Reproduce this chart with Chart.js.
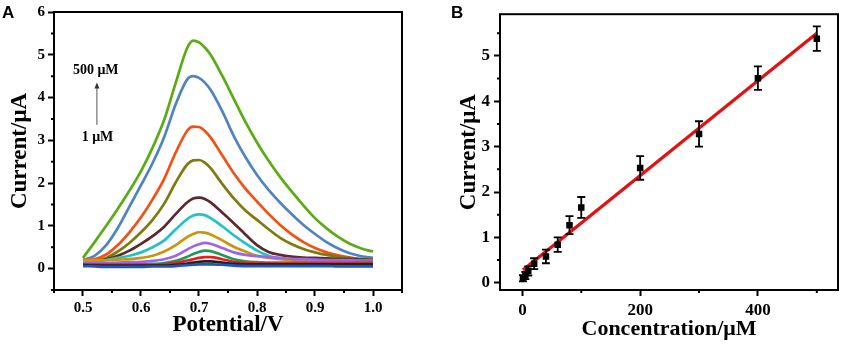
<!DOCTYPE html>
<html><head><meta charset="utf-8">
<script src="https://cdn.jsdelivr.net/npm/chart.js@4"></script>
<style>
html,body{margin:0;padding:0;background:#fff;}
#wrap{position:relative;width:844px;height:346px;overflow:hidden;background:#fff;}
#ca{position:absolute;left:0;top:0;}
#cb{position:absolute;left:420px;top:0;}
</style></head><body>
<div id="wrap"><canvas id="ca" width="420" height="346"></canvas><canvas id="cb" width="424" height="346"></canvas></div>
<script>
// ---------- Panel A data (DPV curves) ----------
const potential = [0.50,0.52,0.54,0.56,0.58,0.60,0.62,0.64,0.66,0.68,0.69,0.70,0.71,0.72,0.74,0.76,0.78,0.80,0.82,0.84,0.86,0.88,0.90,0.92,0.94,0.96,0.98,1.00];
const i1   = [0.06,0.05,0.04,0.04,0.04,0.04,0.05,0.05,0.06,0.08,0.09,0.10,0.10,0.10,0.09,0.07,0.06,0.06,0.06,0.06,0.06,0.06,0.06,0.06,0.05,0.05,0.05,0.05];
const i5   = [0.08,0.07,0.07,0.07,0.07,0.07,0.07,0.07,0.09,0.12,0.14,0.16,0.17,0.17,0.14,0.11,0.10,0.10,0.10,0.10,0.10,0.10,0.10,0.10,0.10,0.10,0.10,0.10];
const i10  = [0.10,0.09,0.08,0.08,0.08,0.08,0.08,0.10,0.13,0.19,0.22,0.25,0.27,0.27,0.22,0.16,0.13,0.12,0.12,0.12,0.12,0.12,0.12,0.12,0.12,0.12,0.12,0.12];
const i20  = [0.10,0.10,0.10,0.10,0.10,0.10,0.11,0.13,0.18,0.28,0.34,0.39,0.42,0.41,0.32,0.22,0.17,0.15,0.14,0.14,0.14,0.14,0.14,0.14,0.14,0.14,0.15,0.15];
const i40  = [0.13,0.13,0.13,0.14,0.15,0.16,0.18,0.22,0.30,0.45,0.52,0.57,0.60,0.58,0.48,0.38,0.32,0.29,0.27,0.25,0.23,0.22,0.21,0.20,0.20,0.20,0.19,0.19];
const i60  = [0.20,0.20,0.20,0.21,0.22,0.25,0.30,0.40,0.55,0.74,0.81,0.85,0.84,0.80,0.66,0.51,0.40,0.30,0.25,0.22,0.20,0.19,0.18,0.18,0.17,0.17,0.17,0.17];
const i80  = [0.15,0.16,0.20,0.25,0.30,0.38,0.50,0.66,0.92,1.16,1.24,1.27,1.25,1.18,0.99,0.78,0.59,0.42,0.30,0.24,0.21,0.20,0.19,0.19,0.18,0.18,0.18,0.18];
const i100 = [0.18,0.18,0.22,0.30,0.42,0.58,0.76,0.98,1.28,1.55,1.64,1.66,1.63,1.55,1.31,1.06,0.80,0.55,0.39,0.32,0.28,0.26,0.25,0.24,0.23,0.22,0.21,0.20];
const i200 = [0.18,0.18,0.25,0.40,0.60,0.85,1.14,1.52,2.02,2.44,2.53,2.54,2.48,2.35,1.98,1.64,1.36,1.14,0.92,0.72,0.57,0.46,0.38,0.32,0.28,0.25,0.22,0.20];
const i300 = [0.20,0.22,0.33,0.55,0.85,1.20,1.62,2.10,2.72,3.23,3.32,3.31,3.22,3.07,2.65,2.23,1.87,1.57,1.28,1.02,0.80,0.62,0.48,0.38,0.31,0.26,0.22,0.20];
const i400 = [0.20,0.30,0.55,0.95,1.45,1.95,2.47,3.08,3.85,4.43,4.50,4.46,4.35,4.18,3.68,3.10,2.61,2.19,1.84,1.54,1.27,1.02,0.81,0.62,0.47,0.36,0.29,0.25];
const i500 = [0.25,0.62,1.00,1.40,1.82,2.28,2.83,3.48,4.35,5.17,5.33,5.29,5.17,5.00,4.51,3.97,3.43,2.95,2.52,2.14,1.80,1.48,1.18,0.94,0.74,0.58,0.47,0.40];
const curveLabels = ['1 μM','5 μM','10 μM','20 μM','40 μM','60 μM','80 μM','100 μM','200 μM','300 μM','400 μM','500 μM'];
const curves = [i1,i5,i10,i20,i40,i60,i80,i100,i200,i300,i400,i500];
const xTicksA = [0.5,0.6,0.7,0.8,0.9,1.0];
const yTicksA = [0,1,2,3,4,5,6];

// ---------- Panel B data (calibration) ----------
const concB    = [1,5,10,20,40,60,80,100,200,300,400,500];
const currentB = [0.10,0.16,0.26,0.42,0.58,0.84,1.27,1.66,2.53,3.28,4.51,5.38];
const errB     = [0.07,0.08,0.10,0.12,0.15,0.16,0.20,0.23,0.26,0.28,0.26,0.27];
const fitX = [1,500];
const fitY = [0.28,5.50];
const xTicksB = [0,200,400];
const yTicksB = [0,1,2,3,4,5];

// ---------- styles ----------
const curveColors = ['#1a56c8','#222222','#e31e24','#1f9a5a','#a064e6','#c8960a','#20c4c4','#5c2a2e','#7d7a0e','#f55014','#4f84c0','#5aab14'];
const SERIF = '"Liberation Serif","Times New Roman",serif';
const SANS = '"Liberation Sans",Arial,sans-serif';

function midTicks(majors, min, max){
  const out=[]; const step = majors[1]-majors[0];
  out.push(majors[0]-step/2);
  for(let i=0;i<majors.length;i++) out.push(majors[i]+step/2);
  return out.filter(v=>v>=min-1e-9 && v<=max+1e-9);
}

const framePlugin = {
  id:'frame',
  afterDraw(chart){
    const {ctx, chartArea:a} = chart;
    ctx.save(); ctx.strokeStyle='#000'; ctx.lineWidth=2;
    ctx.strokeRect(a.left, a.top, a.right-a.left, a.bottom-a.top);
    const xs=chart.scales.x, ys=chart.scales.y;
    const mx = midTicks(xs.ticks.map(t=>t.value), xs.min, xs.max);
    const my = midTicks(ys.ticks.map(t=>t.value), ys.min, ys.max);
    ctx.lineWidth=2;
    ctx.beginPath();
    mx.forEach(v=>{const p=xs.getPixelForValue(v); ctx.moveTo(p,a.bottom); ctx.lineTo(p,a.bottom+3);});
    my.forEach(v=>{const p=ys.getPixelForValue(v); ctx.moveTo(a.left,p); ctx.lineTo(a.left-3,p);});
    ctx.stroke();
    ctx.restore();
  }
};

function axisCommon(fontSize){
  return {
    grid:{drawOnChartArea:false, drawTicks:true, tickLength:6, tickWidth:2, tickColor:'#000'},
    border:{display:false},
    ticks:{font:{family:SERIF,size:fontSize,weight:'bold'}, color:'#000', maxRotation:0, autoSkip:false}
  };
}

// ---------- Chart A ----------
const annotA = {
  id:'annotA',
  afterDraw(chart){
    const {ctx} = chart; const xs=chart.scales.x, ys=chart.scales.y;
    ctx.save();
    ctx.fillStyle='#000';
    ctx.font='bold 17px '+SANS; ctx.textAlign='left'; ctx.textBaseline='alphabetic';
    ctx.fillText('A', 2, 18);
    ctx.font='bold 14px '+SERIF; ctx.textAlign='center'; ctx.textBaseline='middle';
    ctx.fillText('500 μM', xs.getPixelForValue(0.522), ys.getPixelForValue(4.63));
    ctx.fillText('1 μM', xs.getPixelForValue(0.525), ys.getPixelForValue(3.06));
    const ax = xs.getPixelForValue(0.524), y0 = ys.getPixelForValue(3.36), y1 = ys.getPixelForValue(4.35);
    ctx.strokeStyle='#555'; ctx.fillStyle='#333'; ctx.lineWidth=1;
    ctx.beginPath(); ctx.moveTo(ax,y0); ctx.lineTo(ax,y1+4); ctx.stroke();
    ctx.beginPath(); ctx.moveTo(ax,y1); ctx.lineTo(ax-2.5,y1+6); ctx.lineTo(ax+2.5,y1+6); ctx.closePath(); ctx.fill();
    ctx.restore();
  }
};

const axA = axisCommon(15);
new Chart(document.getElementById('ca'), {
  type:'line',
  data:{ datasets: curves.map((arr,i)=>({
    label: curveLabels[i],
    data: potential.map((v,j)=>({x:v,y:arr[j]})),
    borderColor: curveColors[i], backgroundColor: curveColors[i],
    borderWidth: 2.7, pointRadius:0, fill:false, cubicInterpolationMode:'monotone'
  })) },
  options:{
    responsive:false, animation:false, devicePixelRatio:1,
    layout:{padding:{left:0,right:18,top:9,bottom:0}},
    plugins:{legend:{display:false}, tooltip:{enabled:false}},
    scales:{
      x:{ type:'linear', min:0.45, max:1.05,
        afterFit(s){ s.height=56; },
        afterBuildTicks(s){ s.ticks = xTicksA.map(v=>({value:v})); },
        grid:axA.grid, border:axA.border,
        ticks:Object.assign({}, axA.ticks, {padding:3, callback:v=>Number(v).toFixed(1)}),
        title:{display:true, text:'Potential/V', color:'#000', font:{family:SERIF,size:23,weight:'bold'}, padding:{top:0,bottom:7}}
      },
      y:{ type:'linear', min:-0.5, max:6,
        afterFit(s){ s.width=54; },
        afterBuildTicks(s){ s.ticks = yTicksA.map(v=>({value:v})); },
        grid:axA.grid, border:axA.border,
        ticks:Object.assign({}, axA.ticks, {padding:3, callback:v=>String(v)}),
        title:{display:true, text:'Current/μA', color:'#000', font:{family:SERIF,size:23,weight:'bold'}, padding:{top:6,bottom:0}}
      }
    }
  },
  plugins:[framePlugin, annotA]
});

// ---------- Chart B ----------
const errPlugin = {
  id:'errbars',
  afterDatasetsDraw(chart){
    const {ctx} = chart; const xs=chart.scales.x, ys=chart.scales.y;
    ctx.save(); ctx.strokeStyle='#000'; ctx.lineWidth=1.8;
    ctx.beginPath();
    concB.forEach((c,i)=>{
      const x=xs.getPixelForValue(c);
      const yt=ys.getPixelForValue(currentB[i]+errB[i]);
      const yb=ys.getPixelForValue(currentB[i]-errB[i]);
      ctx.moveTo(x,yt); ctx.lineTo(x,yb);
      ctx.moveTo(x-4,yt); ctx.lineTo(x+4,yt);
      ctx.moveTo(x-4,yb); ctx.lineTo(x+4,yb);
    });
    ctx.stroke();
    ctx.fillStyle='#000'; ctx.font='bold 17px '+SANS; ctx.textAlign='left'; ctx.textBaseline='alphabetic';
    ctx.fillText('B', 31, 18);
    ctx.restore();
  }
};

const axB = axisCommon(17);
new Chart(document.getElementById('cb'), {
  type:'scatter',
  data:{ datasets:[
    { label:'Current', data: concB.map((c,i)=>({x:c,y:currentB[i]})),
      pointStyle:'rect', pointRadius:4.6, backgroundColor:'#000', borderColor:'#000', borderWidth:0, showLine:false },
    { type:'line', label:'Linear fit', data: fitX.map((x,i)=>({x:x,y:fitY[i]})),
      borderColor:'#e01414', borderWidth:3.4, pointRadius:0, fill:false }
  ]},
  options:{
    responsive:false, animation:false, devicePixelRatio:1,
    layout:{padding:{left:0,right:6,top:9,bottom:0}},
    plugins:{legend:{display:false}, tooltip:{enabled:false}},
    scales:{
      x:{ type:'linear', min:-38, max:536,
        afterFit(s){ s.height=56; },
        afterBuildTicks(s){ s.ticks = xTicksB.map(v=>({value:v})); },
        grid:axB.grid, border:axB.border,
        ticks:Object.assign({}, axB.ticks, {padding:4, callback:v=>String(v)}),
        title:{display:true, text:'Concentration/μM', color:'#000', font:{family:SERIF,size:22,weight:'bold'}, padding:{top:0,bottom:3}}
      },
      y:{ type:'linear', min:-0.16, max:5.92,
        afterFit(s){ s.width=80; },
        afterBuildTicks(s){ s.ticks = yTicksB.map(v=>({value:v})); },
        grid:axB.grid, border:axB.border,
        ticks:Object.assign({}, axB.ticks, {padding:4, callback:v=>String(v)}),
        title:{display:true, text:'Current/μA', color:'#000', font:{family:SERIF,size:23,weight:'bold'}, padding:{top:35,bottom:0}}
      }
    }
  },
  plugins:[framePlugin, errPlugin]
});
</script>
</body></html>
